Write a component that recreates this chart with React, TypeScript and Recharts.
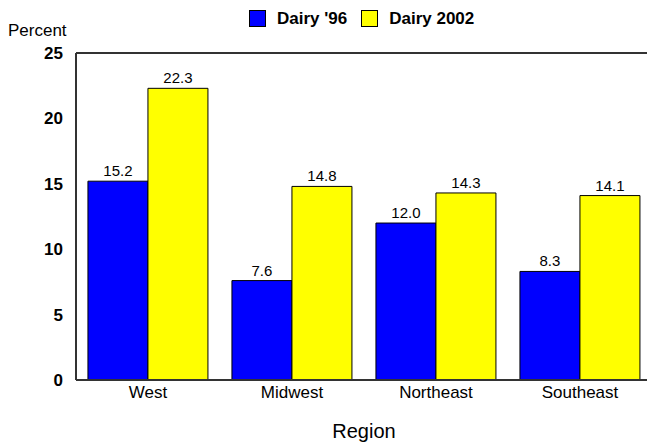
import React from "react"
import {
  BarChart,
  Bar,
  XAxis,
  YAxis,
  ReferenceLine,
  LabelList,
  Label,
} from "recharts"

const regions = ["West", "Midwest", "Northeast", "Southeast"]
const dairy96 = [15.2, 7.6, 12.0, 8.3]
const dairy2002 = [22.3, 14.8, 14.3, 14.1]
const yTicks = [0, 5, 10, 15, 20, 25]

const FONT = "Arial, 'Liberation Sans', sans-serif"

const data = regions.map((region, i) => ({
  region,
  d96: dairy96[i],
  d2002: dairy2002[i],
}))

const series = [
  { key: "d96", label: "Dairy '96", color: "#0000ff" },
  { key: "d2002", label: "Dairy 2002", color: "#ffff00" },
]

function LegendBox() {
  return (
    <div
      style={{
        position: "absolute",
        left: 249,
        top: 9,
        display: "flex",
        alignItems: "center",
        fontFamily: FONT,
        fontSize: 17,
        fontWeight: "bold",
        lineHeight: "19px",
        whiteSpace: "nowrap",
      }}
    >
      {series.map((s, i) => (
        <div key={s.key} style={{ display: "flex", alignItems: "center", marginRight: i === 0 ? 14 : 0 }}>
          <span
            style={{
              display: "inline-block",
              width: 15,
              height: 15,
              background: s.color,
              border: "1px solid #000",
              marginRight: 11,
            }}
          />
          <span>{s.label}</span>
        </div>
      ))}
    </div>
  )
}

export default function App() {
  return (
    <div style={{ position: "absolute", left: 0, top: 0, width: 647, height: 447, overflow: "hidden", background: "#fff" }}>
      <BarChart
        width={660}
        height={447}
        data={data}
        margin={{ top: 53, right: 8, left: 0, bottom: 0 }}
        barCategoryGap="8.3%"
        barGap={0}
        style={{ fontFamily: FONT }}
      >
        <XAxis
          dataKey="region"
          height={67}
          tickLine={false}
          tickSize={0}
          tickMargin={6}
          axisLine={{ stroke: "#333", strokeWidth: 2 }}
          tick={{ fontSize: 17, fill: "#000", fontFamily: FONT }}
        >
          <Label value="Region" position="insideBottom" offset={9} style={{ fontSize: 20, fill: "#000", fontFamily: FONT }} />
        </XAxis>
        <YAxis
          width={76}
          domain={[0, 25]}
          ticks={yTicks}
          tickLine={false}
          tickSize={0}
          tickMargin={13}
          axisLine={{ stroke: "#333", strokeWidth: 2 }}
          tick={{ fontSize: 17, fill: "#000", fontWeight: "bold", fontFamily: FONT }}
        >
          <Label
            content={() => (
              <text x={8} y={36} fontSize={17} fill="#000" fontFamily={FONT}>
                Percent
              </text>
            )}
          />
        </YAxis>
        <ReferenceLine y={25} stroke="#333" strokeWidth={2} ifOverflow="visible" />
        {series.map((s) => (
          <Bar
            key={s.key}
            dataKey={s.key}
            name={s.label}
            fill={s.color}
            stroke="#000"
            strokeWidth={1}
            isAnimationActive={false}
          >
            <LabelList
              dataKey={s.key}
              position="top"
              offset={5}
              formatter={(v: number) => v.toFixed(1)}
              style={{ fontSize: 15, fill: "#000", fontFamily: FONT }}
            />
          </Bar>
        ))}
      </BarChart>
      <LegendBox />
    </div>
  )
}
